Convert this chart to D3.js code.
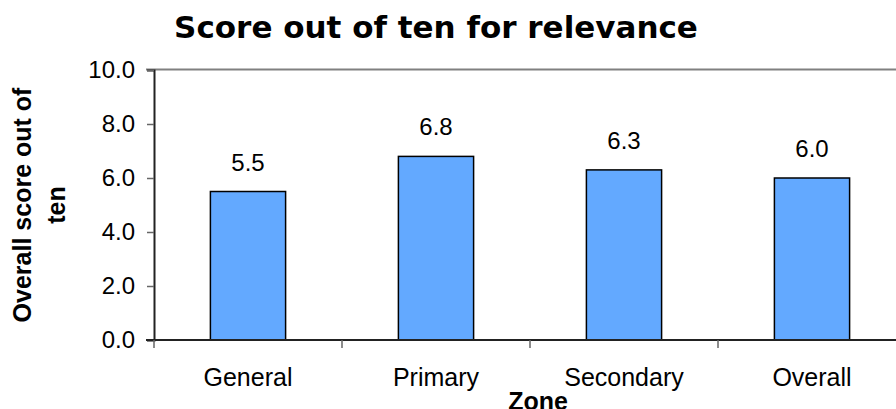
<!DOCTYPE html>
<meta charset="UTF-8">
<html>
<head>
	<title>Score out of ten for relevance</title>
	<script src="https://d3js.org/d3.v7.min.js"></script>
	<style>
		body { margin: 0; background: #fff; }
		svg text { font-family: "Liberation Sans", Arial, sans-serif; fill: #000; }
	</style>
</head>
<body>
	<svg id="chart" width="896" height="409"></svg>

	<script>
		// Data
		var zones = ["General", "Primary", "Secondary", "Overall"];
		var scores = [5.5, 6.8, 6.3, 6.0];
		var yTicks = [0, 2, 4, 6, 8, 10];

		var svg = d3.select("#chart");

		// plot area
		var plotLeft = 154, plotTop = 70, plotBottom = 340;
		var band = 188;

		var x = d3.scaleBand()
			.domain(zones)
			.range([plotLeft, plotLeft + band * zones.length])
			.paddingInner(0.6)
			.paddingOuter(0.3);
		var y = d3.scaleLinear()
			.domain([0, 10])
			.range([plotBottom, plotTop]);

		// top border / gridline at 10
		svg.append("line")
			.attr("x1", plotLeft - 8).attr("x2", 896)
			.attr("y1", y(10) - 0.5).attr("y2", y(10) - 0.5)
			.attr("stroke", "#808080").attr("stroke-width", 2);

		// bars
		svg.selectAll("rect.bar")
			.data(scores)
			.enter()
			.append("rect")
				.attr("class", "bar")
				.attr("x", function(d, i){ return x(zones[i]); })
				.attr("y", function(d){ return y(d); })
				.attr("width", x.bandwidth())
				.attr("height", function(d){ return y(0) - y(d); })
				.style("fill", "#63a9ff")
				.attr("stroke", "#000")
				.attr("stroke-width", 1.5);

		// value labels
		svg.selectAll("text.val")
			.data(scores)
			.enter()
			.append("text")
				.attr("class", "val")
				.attr("x", function(d, i){ return x(zones[i]) + x.bandwidth() / 2; })
				.attr("y", function(d){ return y(d) - 21; })
				.attr("text-anchor", "middle")
				.style("font-size", "24px")
				.text(function(d){ return d.toFixed(1); });

		// y axis
		var yAxis = d3.axisLeft(y)
			.tickValues(yTicks)
			.tickSize(7)
			.tickPadding(12)
			.tickFormat(function(d){ return d.toFixed(1); });
		var gy = svg.append("g")
			.attr("transform", "translate(" + plotLeft + ",0)")
			.call(yAxis);
		gy.select(".domain").attr("stroke", "#222").attr("stroke-width", 2);
		gy.selectAll(".tick line").attr("stroke", "#666").attr("stroke-width", 1.5);
		gy.selectAll(".tick text").style("font-size", "24px").attr("font-family", null);
		gy.attr("font-family", null).attr("font-size", null);

		// x axis with ticks on band boundaries
		var bounds = d3.range(zones.length + 1).map(function(i){ return plotLeft + band * i; });
		svg.append("line")
			.attr("x1", plotLeft - 8).attr("x2", 896)
			.attr("y1", plotBottom).attr("y2", plotBottom)
			.attr("stroke", "#222").attr("stroke-width", 2);
		svg.selectAll("line.xtick")
			.data(bounds)
			.enter()
			.append("line")
				.attr("class", "xtick")
				.attr("x1", function(d){ return d; })
				.attr("x2", function(d){ return d; })
				.attr("y1", plotBottom).attr("y2", plotBottom + 8)
				.attr("stroke", "#666").attr("stroke-width", 1.5);
		svg.selectAll("text.cat")
			.data(zones)
			.enter()
			.append("text")
				.attr("class", "cat")
				.attr("x", function(d){ return x(d) + x.bandwidth() / 2; })
				.attr("y", 386)
				.attr("text-anchor", "middle")
				.style("font-size", "25px")
				.text(function(d){ return d; });

		// titles
		svg.append("text")
			.attr("x", 436).attr("y", 38)
			.attr("text-anchor", "middle")
			.style("font-family", "'DejaVu Sans', Verdana, sans-serif")
			.style("font-weight", "bold")
			.style("font-size", "31px")
			.text("Score out of ten for relevance");

		svg.append("text")
			.attr("x", 538).attr("y", 410)
			.attr("text-anchor", "middle")
			.style("font-weight", "bold")
			.style("font-size", "25px")
			.text("Zone");

		var yt = svg.append("text")
			.attr("transform", "translate(0,205) rotate(-90)")
			.attr("text-anchor", "middle")
			.style("font-weight", "bold")
			.style("font-size", "25px");
		yt.append("tspan").attr("x", 0).attr("y", 31).text("Overall score out of");
		yt.append("tspan").attr("x", 0).attr("y", 65).text("ten");
	</script>
</body>
</html>
